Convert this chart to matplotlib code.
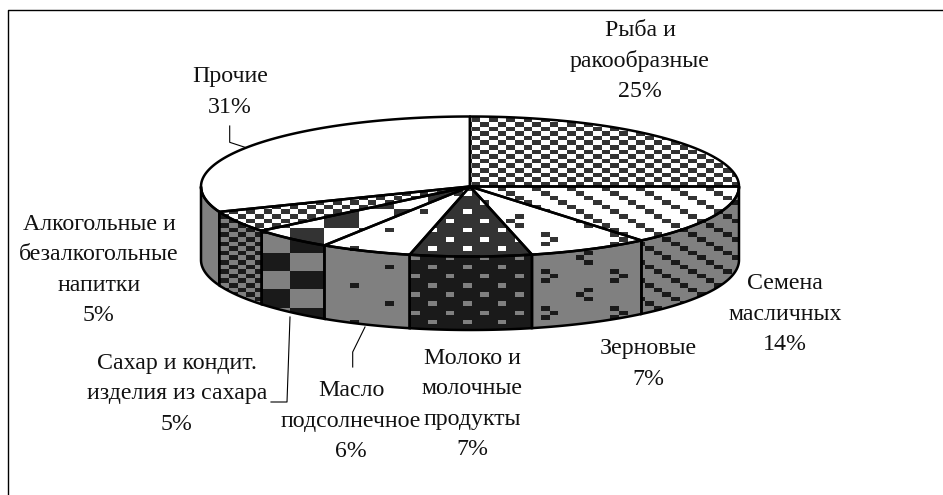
import numpy as np
import matplotlib
matplotlib.use('Agg')
import matplotlib.pyplot as plt
from matplotlib.patches import Polygon

plt.rcParams['font.family'] = ['Liberation Serif', 'DejaVu Serif']

W, H = 943, 495

labels = ['Рыба и\nракообразные\n25%', 'Семена\nмасличных\n14%', 'Зерновые\n7%',
          'Молоко и\nмолочные\nпродукты\n7%', 'Масло\nподсолнечное\n6%',
          'Сахар и кондит.\nизделия из сахара\n5%',
          'Алкогольные и\nбезалкогольные\nнапитки\n5%', 'Прочие\n31%']
# the labels are rounded, the slices read a little finer off the picture
values = [25, 14, 7.3, 7.3, 5.5, 5, 5, 30.9]
patterns = ['check', 'diag', 'glyph', 'dots', 'sparse', 'bigcheck', 'check', None]
label_x = [640, 785, 648, 472, 351, 177, 99, 230]
label_y = [61, 314, 364, 404, 421, 394, 270, 92]

# pie geometry, in pixels
cx, cy, rx, ry, depth = 470, 186.5, 269, 70, 73.5
# pattern grid
ux, uy, x0, y0 = 8.667, 4.6, 462.97, 209.4

X, Y = np.meshgrid(np.arange(W) + 0.5, np.arange(H) + 0.5)


def pattern_mask(name, side):
    i = np.floor((X - x0) / ux).astype(int)
    j = np.floor((Y - y0) / uy).astype(int)
    if name == 'check':
        return (i + j) % 2 == 1
    if name == 'diag':
        return (i - j) % 4 == 1
    if name == 'dots':
        return ((i % 4 == 0) & (j % 4 == 0)) | ((i % 4 == 2) & (j % 4 == 2))
    if name == 'sparse':
        return ((i % 8 == 3) & (j % 8 == 0)) | ((i % 8 == 7) & (j % 8 == 4))
    if name == 'glyph':
        a, b = i % 8, j % 8
        m = ((a == 1) & (b == 5)) | ((a == 2) & (b == 6)) | ((a == 1) & (b == 7))
        m |= ((a == 6) & (b == 1)) | ((a == 5) & (b == 2)) | ((a == 6) & (b == 3))
        return m
    if name == 'bigcheck':
        if side:
            j = np.floor((Y - y0 - 6.4) / uy).astype(int)
        return (i // 4 + j // 4) % 2 == 0
    return np.zeros_like(X, dtype=bool)


def pt(t, dy=0.0):
    # t is the share of the pie in percent, clockwise from the top
    a = np.radians(np.asarray(t) * 3.6)
    return cx + rx * np.sin(a), cy - ry * np.cos(a) + dy


def fill(poly, name, side):
    if side:
        dark, light = 0x1a, 0x80
    else:
        dark, light = 0x33, 0xff
    m = pattern_mask(name, side)
    if name == 'dots':
        img = np.where(m, light, dark)
    else:
        img = np.where(m, dark, light)
    im = ax.imshow(img, cmap='gray', vmin=0, vmax=255, extent=(0, W, H, 0),
                   interpolation='nearest', aspect='auto', zorder=2)
    im.set_clip_path(Polygon(poly, closed=True, transform=ax.transData))


fig = plt.figure(figsize=(W / 100, H / 100), dpi=100)
ax = fig.add_axes([0, 0, 1, 1])
ax.axis('off')

edges = np.concatenate([[0], np.cumsum(values)])

for k in range(len(values)):
    t0, t1 = edges[k], edges[k + 1]

    # side of the slice, only the front half of the pie shows
    s0, s1 = max(t0, 25), min(t1, 75)
    if s0 < s1:
        t = np.linspace(s0, s1, 60)
        xs, ys = pt(t)
        xb, yb = pt(t[::-1], depth)
        poly = np.column_stack([np.r_[xs, xb], np.r_[ys, yb]])
        fill(poly, patterns[k], True)
        ax.add_patch(Polygon(poly, closed=True, fill=False, ec='black', lw=1.8, zorder=3))

    # top of the slice
    t = np.linspace(t0, t1, 120)
    xs, ys = pt(t)
    poly = np.column_stack([np.r_[cx, xs], np.r_[cy, ys]])
    fill(poly, patterns[k], False)
    ax.add_patch(Polygon(poly, closed=True, fill=False, ec='black', lw=1.8,
                         joinstyle='round', zorder=4))

for k in range(len(labels)):
    ax.text(label_x[k], label_y[k], labels[k], ha='center', va='center', fontsize=17.2,
            linespacing=1.57, color='#111111', zorder=6)

# leader lines
ax.plot([229.7, 229.7, 245], [126, 142.3, 147.3], color='black', lw=0.8, zorder=5)
ax.plot([271, 287, 290], [402, 402, 317], color='black', lw=0.8, zorder=5)
ax.plot([352.7, 352.7, 365], [367, 352, 327], color='black', lw=0.8, zorder=5)

# chart frame, cut by the picture on the right and at the bottom
ax.plot([7.5, 7.5, W], [H, 10, 10], color='black', lw=1.0, zorder=1)

ax.set_xlim(0, W)
ax.set_ylim(H, 0)
fig.savefig('out.png', dpi=100)
